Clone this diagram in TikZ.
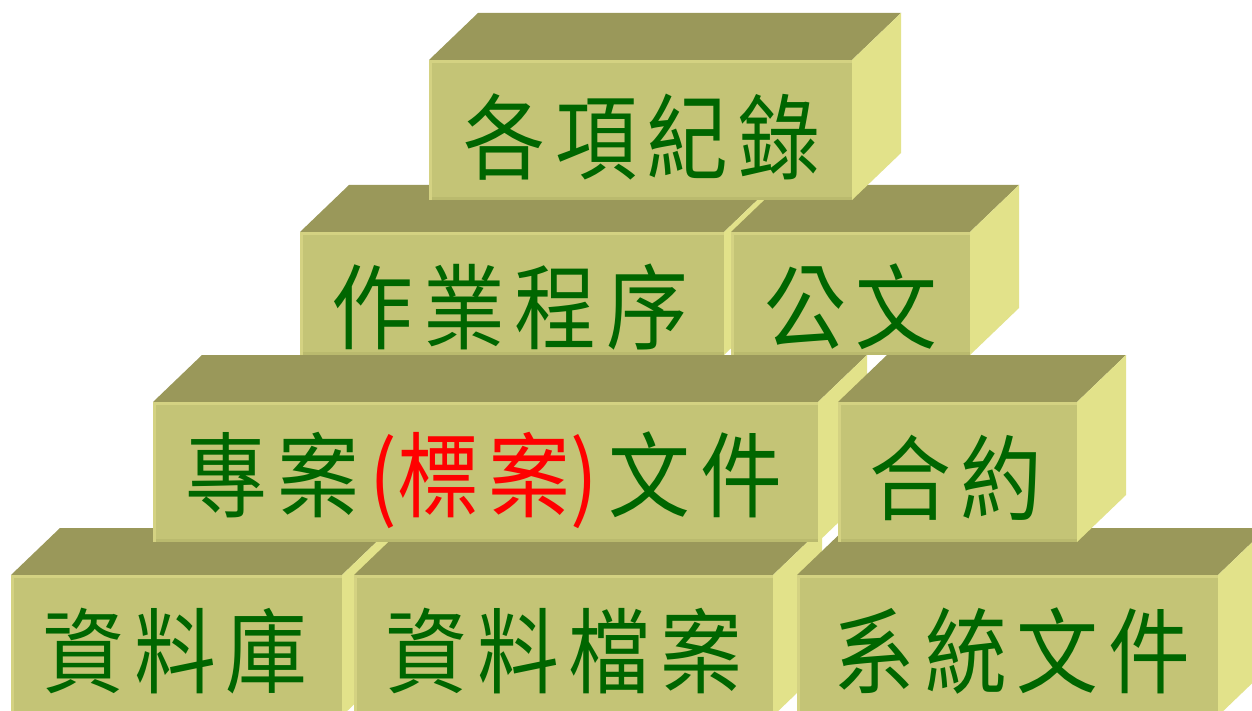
\documentclass[tikz,border=0pt]{standalone}
\usepackage{fontspec}
\newfontfamily\cjk[FakeStretch=0.88]{Noto Sans CJK TC}
\definecolor{topc}{RGB}{154,152,90}
\definecolor{frontc}{RGB}{196,196,118}
\definecolor{sidec}{RGB}{226,226,138}
\definecolor{bevl}{RGB}{212,210,130}
\definecolor{bevd}{RGB}{186,186,110}
\definecolor{txtg}{RGB}{0,102,0}
\definecolor{txtr}{RGB}{255,0,0}
\newcommand\kgap{\hspace{10pt}}
\newcommand\brick[8]{%
  \fill[topc] (#2,#4) -- (#2+49,#4-47) -- (#3+49,#4-47) -- (#3,#4) -- cycle;
  \fill[sidec] (#3,#4) -- (#3+49,#4-47) -- (#3+49,#5-47) -- (#3,#5) -- cycle;
  \fill[frontc] (#2,#4) rectangle (#3,#5);
  \draw[bevd, line width=3pt] (#2,#5-1.5) -- (#3,#5-1.5);
  \draw[bevl, line width=3pt] (#2+1.5,#5) -- (#2+1.5,#4+1.5) -- (#3,#4+1.5);
  \node[lbl] (#1) at (#6,#7) {#8};
}
\begin{document}
\begin{tikzpicture}[x=1pt,y=-1pt,
  lbl/.style={inner sep=0pt, text=txtg, font=\cjk\fontsize{93}{93}\selectfont}]
\useasboundingbox (0,0) rectangle (1252,711);
\clip (0,0) rectangle (1252,711);
\fill[white] (0,0) rectangle (1252,711);
% row 4
\brick{db}{11}{342}{575}{716}{175}{651}{資\kgap 料\kgap 庫}
\brick{files}{354}{773}{575}{716}{564}{651}{資\kgap 料\kgap 檔\kgap 案}
\brick{sysdoc}{797}{1218}{575}{716}{1012}{651}{系\kgap 統\kgap 文\kgap 件}
% row 3
\brick{proj}{153}{818}{402}{542}{484}{480}{專\kgap 案\kgap{\color{txtr}(標\kgap 案)}\kgap 文\kgap 件}
\brick{contract}{838}{1077}{402}{542}{956}{478}{合\kgap 約}
% row 2
\brick{sop}{300}{724}{232}{355}{510}{307}{作\kgap 業\kgap 程\kgap 序}
\brick{official}{731}{970}{232}{355}{851}{307}{公\kgap 文}
% row 1
\brick{records}{429}{852}{60}{200}{642}{137}{各\kgap 項\kgap 紀\kgap 錄}
\end{tikzpicture}
\end{document}
